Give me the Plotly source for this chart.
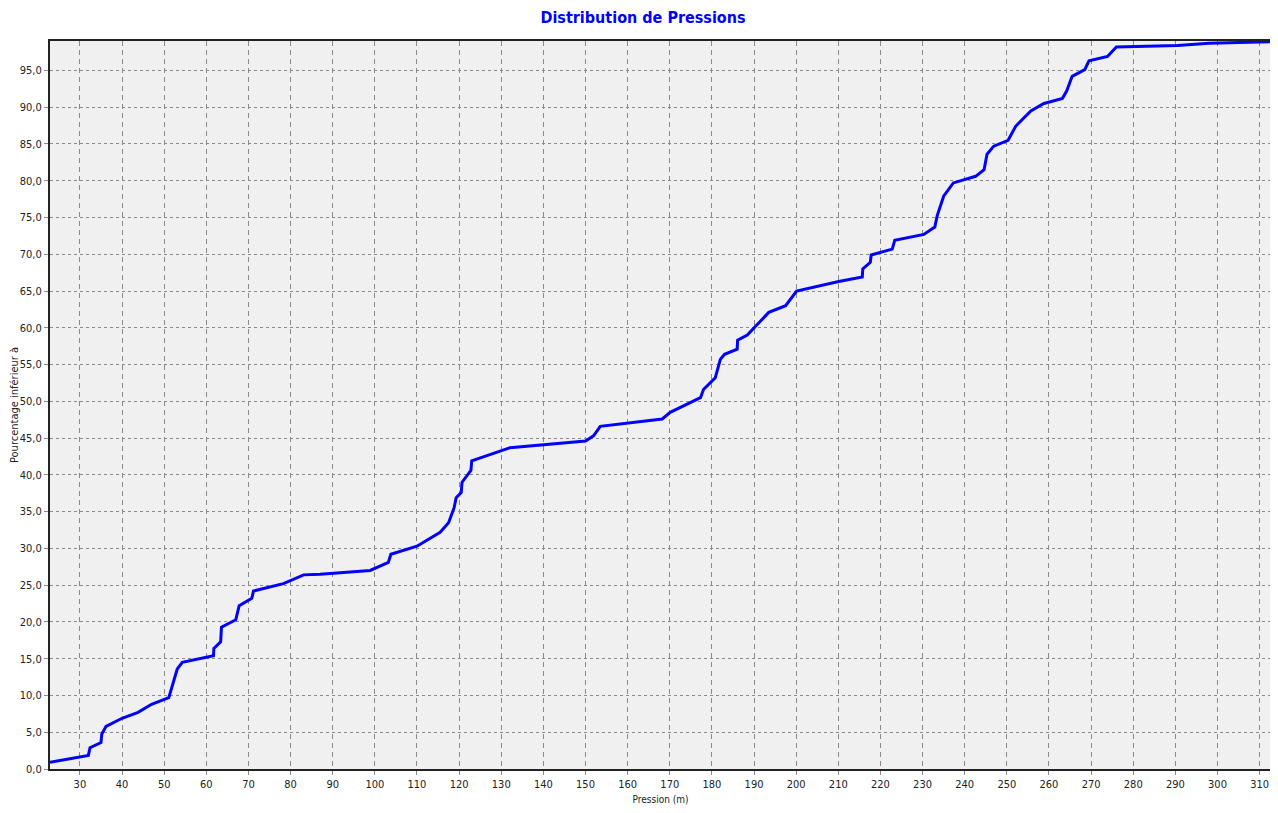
import plotly.graph_objects as go

# Courbe de distribution cumulée des pressions
pression = [22.9, 31.6, 32.0, 32.4, 35.0, 35.2, 36.2, 40.0, 43.8, 47.0, 50.6, 51.1,
            53.1, 54.3, 61.7, 61.8, 63.4, 63.6, 67.0, 67.8, 70.8, 71.2, 78.3, 83.1,
            87.0, 98.9, 103.2, 103.8, 110.0, 115.5, 117.5, 118.8, 119.3, 120.5,
            120.7, 122.8, 123.0, 129.8, 132.1, 150.0, 151.9, 153.5, 168.2, 170.1,
            177.3, 178.0, 180.8, 182.0, 183.0, 186.0, 186.1, 188.4, 193.5, 197.5,
            200.1, 210.1, 215.7, 215.8, 217.6, 217.8, 222.8, 223.4, 230.3, 232.9,
            233.5, 235.0, 237.3, 242.6, 244.6, 245.3, 246.9, 250.3, 252.1, 255.7,
            258.8, 263.2, 264.2, 265.5, 268.5, 269.5, 273.9, 276.0, 283.4, 290.5,
            298.0, 305.5, 312.7]
pourcentage = [0.9, 1.85, 1.85, 2.9, 3.6, 4.75, 5.8, 6.9, 7.7, 8.8, 9.6, 9.7,
               13.6, 14.5, 15.4, 16.4, 17.3, 19.3, 20.3, 22.2, 23.2, 24.2, 25.2, 26.4,
               26.5, 27.0, 28.1, 29.2, 30.3, 32.2, 33.5, 35.5, 36.9, 37.6,
               39.0, 40.6, 41.9, 43.3, 43.7, 44.6, 45.3, 46.6, 47.6, 48.5,
               50.5, 51.6, 53.2, 55.7, 56.4, 57.1, 58.3, 59.0, 62.1, 63.0,
               65.0, 66.3, 66.9, 68.0, 68.9, 69.9, 70.7, 71.9, 72.7, 73.7,
               75.3, 77.9, 79.7, 80.6, 81.5, 83.6, 84.7, 85.5, 87.4, 89.5,
               90.5, 91.2, 92.2, 94.2, 95.1, 96.3, 96.9, 98.2, 98.3, 98.4,
               98.7, 98.8, 98.9]

x_ticks = list(range(30, 311, 10))
y_ticks = [v * 5 for v in range(20)]

police = "DejaVu Sans Condensed, Liberation Sans Narrow, Arial Narrow, sans-serif"

fig = go.Figure()

fig.add_trace(go.Scatter(
    x=pression,
    y=pourcentage,
    mode="lines",
    line=dict(color="#0000ff", width=3),
    showlegend=False
))

# la page ajoute une marge d'environ 8 px autour de la figure
fig.update_layout(
    width=1270, height=805,
    paper_bgcolor="white",
    plot_bgcolor="#f0f0f0",
    separators=", ",
    margin=dict(l=42, r=7, t=33, b=44),
    title=dict(
        text="<b>Distribution de Pressions</b>",
        x=0.5, xanchor="center",
        y=0.988, yanchor="middle",
        font=dict(family=police, size=16, color="#0000ff")
    ),
    font=dict(family=police, size=11, color="#222222")
)

fig.update_xaxes(
    range=[22.9, 312.7],
    tickmode="array", tickvals=x_ticks,
    showgrid=True, gridcolor="#8a8a8a", gridwidth=1, griddash="5px,4px",
    ticks="outside", ticklen=4, tickcolor="#8a8a8a",
    showline=True, linecolor="#222222", linewidth=2, mirror=True,
    zeroline=False, automargin=False,
    title=dict(text="Pression (m)", font=dict(size=10), standoff=6)
)

fig.update_yaxes(
    range=[0, 99],
    tickmode="array", tickvals=y_ticks, tickformat=".1f",
    showgrid=True, gridcolor="#8a8a8a", gridwidth=1, griddash="3px,3px",
    ticks="outside", ticklen=4, tickcolor="#8a8a8a",
    showline=True, linecolor="#222222", linewidth=2, mirror=True,
    zeroline=False, automargin=False,
    title=dict(text="Pourcentage inférieur à", font=dict(size=11), standoff=2)
)

fig.write_html("out.html")
